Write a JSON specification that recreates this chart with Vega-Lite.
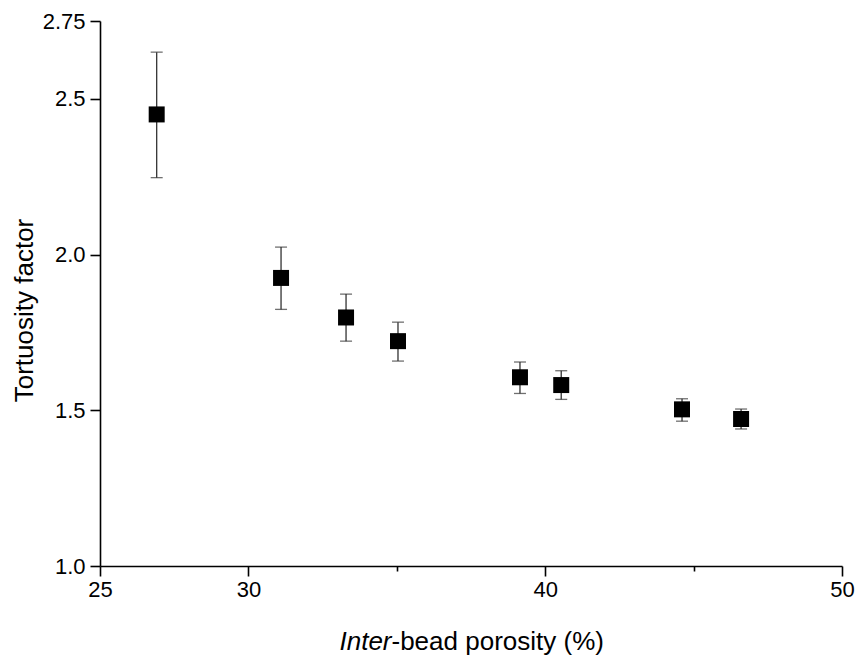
{
  "$schema": "https://vega.github.io/schema/vega-lite/v6.json",
  "width": 742,
  "height": 545,
  "autosize": {"type": "none"},
  "padding": {"left": 100, "top": 21, "right": 17, "bottom": 95},
  "background": "white",
  "config": {
    "view": {"stroke": null},
    "font": "Liberation Sans",
    "axis": {
      "grid": false,
      "domainColor": "black",
      "domainWidth": 1.6,
      "tickColor": "black",
      "tickWidth": 1.6,
      "tickSize": 10,
      "labelFont": "Liberation Sans",
      "labelFontSize": 22,
      "labelColor": "black",
      "titleFont": "Liberation Sans",
      "titleFontSize": 26,
      "titleFontWeight": "normal",
      "titleColor": "black"
    }
  },
  "data": {
    "values": [
      {"porosity": 26.91, "tortuosity": 2.450, "lo": 2.247, "hi": 2.650},
      {"porosity": 31.10, "tortuosity": 1.925, "lo": 1.824, "hi": 2.024},
      {"porosity": 33.29, "tortuosity": 1.798, "lo": 1.722, "hi": 1.873},
      {"porosity": 35.04, "tortuosity": 1.722, "lo": 1.658, "hi": 1.783},
      {"porosity": 39.15, "tortuosity": 1.606, "lo": 1.554, "hi": 1.655},
      {"porosity": 40.54, "tortuosity": 1.581, "lo": 1.535, "hi": 1.627},
      {"porosity": 44.61, "tortuosity": 1.503, "lo": 1.465, "hi": 1.537},
      {"porosity": 46.60, "tortuosity": 1.472, "lo": 1.440, "hi": 1.504}
    ]
  },
  "resolve": {"axis": {"x": "independent"}},
  "layer": [
    {
      "mark": {"type": "rule", "color": "#333333", "strokeWidth": 1.3},
      "encoding": {
        "x": {
          "field": "porosity", "type": "quantitative",
          "scale": {"domain": [25, 50], "nice": false, "zero": false},
          "axis": {
            "orient": "bottom",
            "values": [25, 30, 40, 50],
            "format": "d",
            "labelPadding": 3,
            "labelFlush": false,
            "title": "-bead porosity (%)",
            "titleX": 291,
            "titleY": 83,
            "titleAlign": "left",
            "titleAnchor": null,
            "titleBaseline": "alphabetic"
          }
        },
        "y": {
          "field": "lo", "type": "quantitative",
          "scale": {"domain": [1, 2.75], "nice": false, "zero": false},
          "axis": {
            "values": [1, 1.5, 2, 2.5, 2.75],
            "labelExpr": "datum.value == 2.75 ? '2.75' : format(datum.value, '.1f')",
            "labelPadding": 5,
            "labelFlush": false,
            "title": "Tortuosity factor",
            "titleX": -68,
            "titleY": 289,
            "titleAngle": -90,
            "titleAlign": "center",
            "titleBaseline": "alphabetic"
          }
        },
        "y2": {"field": "hi"}
      }
    },
    {
      "mark": {"type": "tick", "orient": "horizontal", "color": "#333333", "size": 12, "thickness": 1.3},
      "encoding": {
        "x": {"field": "porosity", "type": "quantitative", "axis": null},
        "y": {"field": "lo", "type": "quantitative"}
      }
    },
    {
      "mark": {"type": "tick", "orient": "horizontal", "color": "#333333", "size": 12, "thickness": 1.3},
      "encoding": {
        "x": {"field": "porosity", "type": "quantitative", "axis": null},
        "y": {"field": "hi", "type": "quantitative"}
      }
    },
    {
      "mark": {"type": "point", "shape": "square", "filled": true, "color": "black", "opacity": 1, "size": 256},
      "encoding": {
        "x": {
          "field": "porosity", "type": "quantitative",
          "axis": {
            "orient": "bottom",
            "values": [35, 45],
            "labels": false,
            "domain": false,
            "tickSize": 5,
            "title": "Inter",
            "titleFontStyle": "italic",
            "titleX": 239,
            "titleY": 83,
            "titleAlign": "left",
            "titleAnchor": null,
            "titleBaseline": "alphabetic"
          }
        },
        "y": {"field": "tortuosity", "type": "quantitative"}
      }
    }
  ]
}
